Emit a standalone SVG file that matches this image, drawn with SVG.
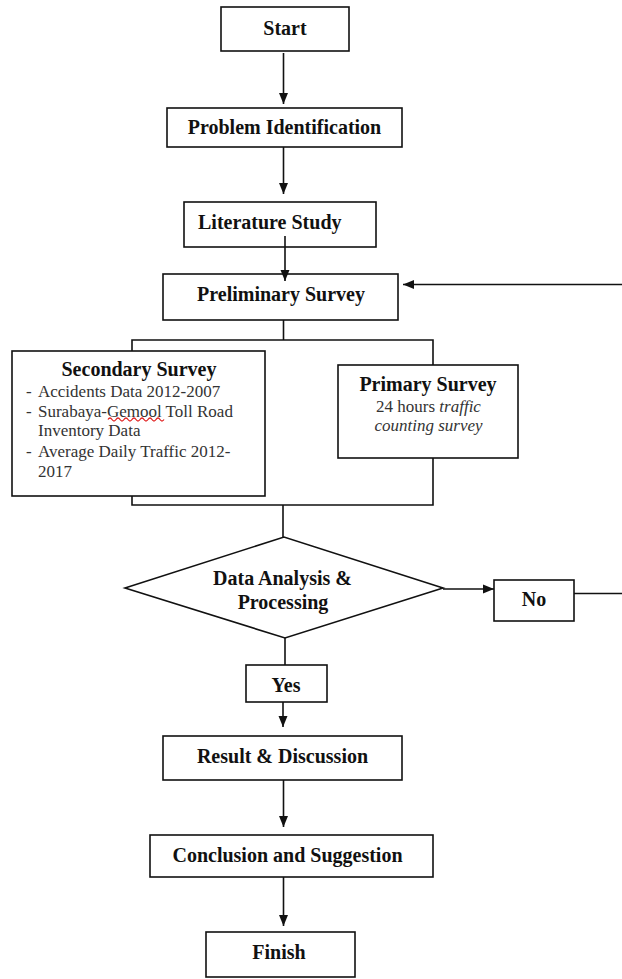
<svg xmlns="http://www.w3.org/2000/svg" width="622" height="979" viewBox="0 0 622 979">
<style>
  .box { fill: #fff; stroke: #111; stroke-width: 1.6; }
  .ln { fill: none; stroke: #111; stroke-width: 1.6; }
  .arr { fill: none; stroke: #111; stroke-width: 1.6; marker-end: url(#ah); }
  .t { font-family: "Liberation Serif", "Times New Roman", serif; font-weight: bold; font-size: 20px; fill: #111; text-anchor: middle; }
  .s { font-family: "Liberation Serif", "Times New Roman", serif; font-size: 17px; fill: #333; }
  .i { font-style: italic; }
</style>
<defs>
  <marker id="ah" markerUnits="userSpaceOnUse" markerWidth="12" markerHeight="12" viewBox="0 0 12 12" refX="11" refY="6" orient="auto">
    <path d="M0,1.5 L11,6 L0,10.5 Z" fill="#111"/>
  </marker>
</defs>

<g id="start">
  <rect class="box" x="221" y="7" width="128" height="44"/>
  <text class="t" x="285" y="35">Start</text>
</g>
<g id="problem">
  <rect class="box" x="167" y="108" width="235" height="39"/>
  <text class="t" x="284.5" y="134">Problem Identification</text>
</g>
<g id="literature">
  <rect class="box" x="184" y="202" width="192" height="45"/>
  <text class="t" x="198" y="228.5" style="text-anchor:start">Literature Study</text>
</g>
<g id="preliminary">
  <rect class="box" x="163" y="274" width="235" height="46"/>
  <text class="t" x="281" y="300.5">Preliminary Survey</text>
</g>
<g id="secondary">
  <rect class="box" x="12" y="351" width="253" height="145"/>
  <text class="t" x="139" y="376">Secondary Survey</text>
  <text class="s" x="26" y="397">-</text>
  <text class="s" x="38" y="397">Accidents Data 2012-2007</text>
  <text class="s" x="26" y="417">-</text>
  <text class="s" x="38" y="417">Surabaya-Gemool Toll Road</text>
  <path d="M108,419.5 q2,-3 4,0 t4,0 t4,0 t4,0 t4,0 t4,0 t4,0 t4,0 t4,0 t4,0 t4,0 t4,0 t4,0 t4,0" fill="none" stroke="#e02020" stroke-width="1.3"/>
  <text class="s" x="38" y="436">Inventory Data</text>
  <text class="s" x="26" y="457">-</text>
  <text class="s" x="38" y="457">Average Daily Traffic 2012-</text>
  <text class="s" x="38" y="477">2017</text>
</g>
<g id="primary">
  <rect class="box" x="338" y="365" width="180" height="93"/>
  <text class="t" x="428" y="391">Primary Survey</text>
  <text class="s" x="428.5" y="412" style="text-anchor:middle">24 hours <tspan class="i">traffic</tspan></text>
  <text class="s i" x="428.5" y="431" style="text-anchor:middle">counting survey</text>
</g>
<g id="analysis">
  <polygon class="box" points="125,588 284,537 443,588 285,638"/>
  <text class="t" x="282.5" y="585">Data Analysis &amp;</text>
  <text class="t" x="283" y="609">Processing</text>
</g>
<g id="no">
  <rect class="box" x="494" y="580" width="80" height="41"/>
  <text class="t" x="534" y="606">No</text>
</g>
<g id="yes">
  <rect class="box" x="246" y="665" width="81" height="37"/>
  <text class="t" x="286" y="692">Yes</text>
</g>
<g id="result">
  <rect class="box" x="163" y="736" width="239" height="44"/>
  <text class="t" x="282.5" y="763">Result &amp; Discussion</text>
</g>
<g id="conclusion">
  <rect class="box" x="150" y="835" width="283" height="42"/>
  <text class="t" x="287.5" y="861.5">Conclusion and Suggestion</text>
</g>
<g id="finish">
  <rect class="box" x="206" y="932" width="149" height="45"/>
  <text class="t" x="279" y="959">Finish</text>
</g>

<g id="connectors">
  <line class="arr" x1="283.5" y1="53" x2="283.5" y2="104"/>
  <line class="arr" x1="283.5" y1="147" x2="283.5" y2="194"/>
  <line class="arr" x1="285" y1="236" x2="285" y2="281"/>
  <line class="arr" x1="622" y1="284.5" x2="403" y2="284.5"/>
  <polyline class="ln" points="283.5,320 283.5,340"/>
  <polyline class="ln" points="132,351 132,340 433,340 433,365"/>
  <polyline class="ln" points="132,496 132,505 433,505 433,458"/>
  <line class="ln" x1="283" y1="505" x2="283" y2="537"/>
  <line class="arr" x1="443" y1="589" x2="494" y2="589"/>
  <line class="ln" x1="574" y1="593.5" x2="622" y2="593.5"/>
  <line class="ln" x1="285" y1="638" x2="285" y2="665"/>
  <line class="arr" x1="283" y1="702" x2="283" y2="727"/>
  <line class="arr" x1="283.5" y1="780" x2="283.5" y2="827"/>
  <line class="arr" x1="283.5" y1="877" x2="283.5" y2="926"/>
</g>
</svg>
